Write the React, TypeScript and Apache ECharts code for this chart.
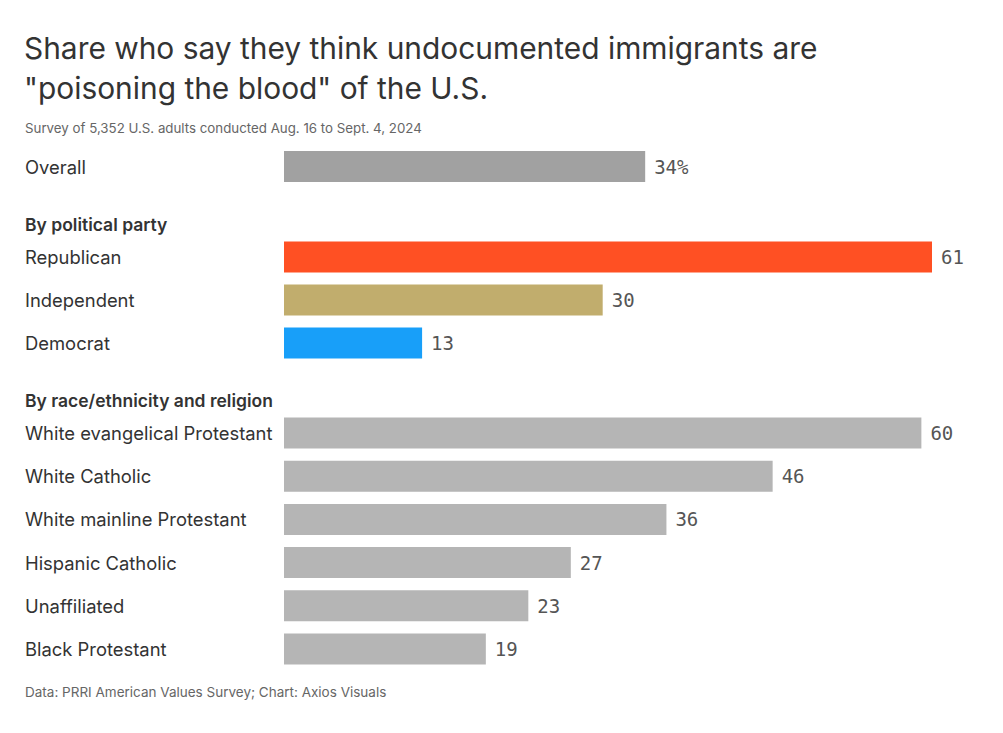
import React, { useEffect, useRef } from "react";
import * as echarts from "echarts";

const overallCats = ["Overall"];
const overallVals = [34];
const partyCats = ["Republican", "Independent", "Democrat"];
const partyVals = [61, 30, 13];
const partyColors = ["#ff5023", "#c1ad6d", "#189ff9"];
const religionCats = [
  "White evangelical Protestant",
  "White Catholic",
  "White mainline Protestant",
  "Hispanic Catholic",
  "Unaffiliated",
  "Black Protestant",
];
const religionVals = [60, 46, 36, 27, 23, 19];

const SANS = "Inter, 'Noto Sans', sans-serif";
const MONO = "'DejaVu Sans Mono', monospace";

export default function App() {
  const ref = useRef<HTMLDivElement>(null);
  useEffect(() => {
    const chart = echarts.init(ref.current!, null, { renderer: "svg" });
    const grids = [
      { left: 284, width: 648, top: 145, height: 43 },
      { left: 284, width: 648, top: 235.5, height: 129 },
      { left: 284, width: 648, top: 411.5, height: 259 },
    ];
    const cats = [overallCats, partyCats, religionCats];
    const xAxis = grids.map((_, i) => ({
      type: "value",
      gridIndex: i,
      min: 0,
      max: 61,
      show: false,
    }));
    const yAxis = cats.map((c, i) => ({
      type: "category",
      gridIndex: i,
      data: c,
      inverse: true,
      axisLine: { show: false },
      axisTick: { show: false },
      axisLabel: {
        align: "left",
        margin: 259,
        fontFamily: SANS,
        fontSize: 18.4,
        color: "#333333",
      },
    }));
    const label = (fmt?: (p: any) => string) => ({
      show: true,
      position: "right",
      distance: 9,
      fontFamily: MONO,
      fontSize: 19,
      color: "#555555",
      formatter: fmt,
    });
    const series = [
      {
        type: "bar",
        xAxisIndex: 0,
        yAxisIndex: 0,
        data: overallVals,
        barWidth: 31,
        itemStyle: { color: "#a1a1a1" },
        label: label((p: any) => p.value + "%"),
      },
      {
        type: "bar",
        xAxisIndex: 1,
        yAxisIndex: 1,
        data: partyVals.map((v, i) => ({ value: v, itemStyle: { color: partyColors[i] } })),
        barWidth: 31,
        label: label(),
      },
      {
        type: "bar",
        xAxisIndex: 2,
        yAxisIndex: 2,
        data: religionVals,
        barWidth: 31,
        itemStyle: { color: "#b5b5b5" },
        label: label(),
      },
    ];
    chart.setOption({
      animation: false,
      backgroundColor: "#ffffff",
      grid: grids,
      xAxis,
      yAxis,
      series,
      graphic: [
        {
          type: "text",
          left: 24,
          top: 28,
          style: {
            text: 'Share who say they think undocumented immigrants are\n"poisoning the blood" of the U.S.',
            fontFamily: SANS,
            fontSize: 29.9,
            lineHeight: 40,
            fill: "#333333",
          },
        },
        {
          type: "text",
          left: 25,
          top: 121,
          style: {
            text: "Survey of 5,352 U.S. adults conducted Aug. 16 to Sept. 4, 2024",
            fontFamily: SANS,
            fontSize: 13.3,
            fill: "#666666",
          },
        },
        {
          type: "text",
          left: 25,
          top: 215,
          style: {
            text: "By political party",
            fontFamily: SANS,
            fontSize: 17.5,
            fontWeight: 600,
            fill: "#333333",
          },
        },
        {
          type: "text",
          left: 25,
          top: 391,
          style: {
            text: "By race/ethnicity and religion",
            fontFamily: SANS,
            fontSize: 17.5,
            fontWeight: 600,
            fill: "#333333",
          },
        },
        {
          type: "text",
          left: 25,
          top: 685,
          style: {
            text: "Data: PRRI American Values Survey; Chart: Axios Visuals",
            fontFamily: SANS,
            fontSize: 13.5,
            fill: "#666666",
          },
        },
      ],
    });
    return () => chart.dispose();
  }, []);
  return <div ref={ref} style={{ width: 1003, height: 733, position: "absolute", left: 0, top: 0 }} />;
}
